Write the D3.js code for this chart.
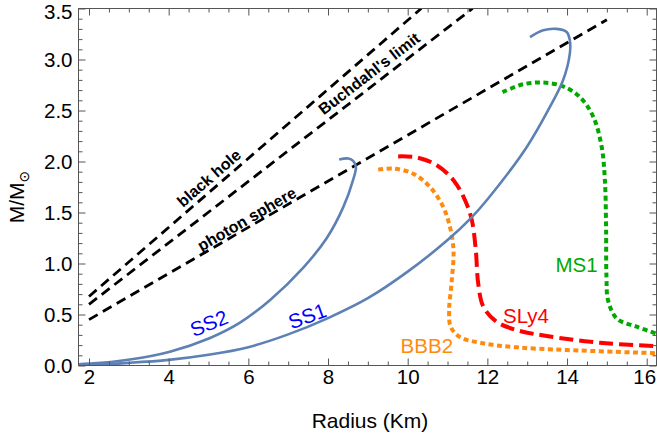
<!DOCTYPE html>
<html>
<head>
<meta charset="utf-8">
<script src="https://cdn.jsdelivr.net/npm/d3@7"></script>
<style>
body { margin: 0; background: #fff; }
text { font-family: "Liberation Sans", Arial, sans-serif; }
</style>
</head>
<body>
<script>
var w = 657;
var h = 440;

// axis ticks
var xTicks = [2, 4, 6, 8, 10, 12, 14, 16];
var yTicks = [0, 0.5, 1, 1.5, 2, 2.5, 3, 3.5];

// strange star sequences (radius in km, mass in solar masses)
var ss1R = [0, 2, 3, 4, 5, 6, 7, 8, 9, 10, 11, 11.6, 12.02, 12.99, 13.57, 13.9, 14.07, 14.07, 13.99, 13.74, 13.4, 13.07];
var ss1M = [0, 0.007, 0.026, 0.055, 0.105, 0.18, 0.305, 0.465, 0.66, 0.92, 1.23, 1.45, 1.637, 2.143, 2.535, 2.796, 3.058, 3.19, 3.27, 3.30, 3.286, 3.22];
var ss2R = [0, 2.03, 3.03, 4.03, 5.04, 5.79, 6.54, 7.38, 7.97, 8.38, 8.63, 8.70, 8.63, 8.51, 8.28];
var ss2M = [0, 0.018, 0.058, 0.135, 0.27, 0.42, 0.64, 0.96, 1.25, 1.55, 1.82, 1.947, 2.006, 2.03, 2.02];

// neutron star sequences
var sly4R = [9.76, 10.22, 10.73, 11.15, 11.44, 11.61, 11.71, 11.77, 11.9, 12.23, 12.73, 13.49, 14.83, 16.3];
var sly4M = [2.05, 2.04, 1.964, 1.817, 1.62, 1.425, 1.13, 0.805, 0.576, 0.43, 0.348, 0.289, 0.223, 0.188];
var bbb2R = [9.26, 9.64, 10.14, 10.56, 10.89, 11.06, 11.15, 11.1, 11.04, 11.08, 11.31, 11.9, 12.73, 13.99, 16.3];
var bbb2M = [1.92, 1.93, 1.88, 1.75, 1.555, 1.36, 1.13, 0.805, 0.54, 0.38, 0.28, 0.217, 0.178, 0.152, 0.12];
var ms1R = [12.38, 12.9, 13.4, 13.9, 14.32, 14.66, 14.87, 14.95, 14.98, 14.99, 15.03, 15.25, 15.75, 16.3];
var ms1M = [2.68, 2.757, 2.774, 2.737, 2.633, 2.437, 2.143, 1.817, 1.36, 0.87, 0.64, 0.46, 0.38, 0.305];

// limit lines (end points)
var blackHoleR = [2, 10.34];
var blackHoleM = [0.677, 3.5];
var buchdahlR = [2, 11.63];
var buchdahlM = [0.60, 3.5];
var photonR = [2, 15];
var photonM = [0.45, 3.39];

var x = d3.scaleLinear().domain([1.736, 16.246]).range([78.5, 656.5]);
var y = d3.scaleLinear().domain([0, 3.5]).range([365.5, 8.5]);

var svg = d3.select("body")
      .append("svg")
      .attr("width", w)
      .attr("height", h);

svg.append("defs").append("clipPath")
   .attr("id", "plot")
   .append("rect")
   .attr("x", x.range()[0])
   .attr("y", y.range()[1])
   .attr("width", x.range()[1] - x.range()[0])
   .attr("height", y.range()[0] - y.range()[1]);

function zip(rs, ms) {
  return rs.map(function(r, i) { return [r, ms[i]]; });
}

var line = d3.line()
    .x(function(d) { return x(d[0]); })
    .y(function(d) { return y(d[1]); })
    .curve(d3.curveCatmullRom.alpha(0.5));

var straight = d3.line()
    .x(function(d) { return x(d[0]); })
    .y(function(d) { return y(d[1]); });

var curves = [
  {pts: zip(blackHoleR, blackHoleM), color: "#000", width: 2.8, dash: "10,6", gen: straight},
  {pts: zip(buchdahlR, buchdahlM), color: "#000", width: 2.8, dash: "10,6", gen: straight},
  {pts: zip(photonR, photonM), color: "#000", width: 2.8, dash: "10,6", gen: straight},
  {pts: zip(sly4R, sly4M), color: "#ff0000", width: 4, dash: "14,6", gen: line},
  {pts: zip(bbb2R, bbb2M), color: "#ff8a10", width: 4, dash: "5,3.5", gen: line},
  {pts: zip(ms1R, ms1M), color: "#00a800", width: 4, dash: "5,3.5", gen: line},
  {pts: zip(ss1R, ss1M), color: "#5e81b5", width: 2.6, dash: null, gen: line},
  {pts: zip(ss2R, ss2M), color: "#5e81b5", width: 2.6, dash: null, gen: line}
];

var plot = svg.append("g").attr("clip-path", "url(#plot)");

plot.selectAll("path")
   .data(curves)
   .enter()
   .append("path")
   .attr("d", function(d) { return d.gen(d.pts); })
   .attr("fill", "none")
   .attr("stroke", function(d) { return d.color; })
   .attr("stroke-width", function(d) { return d.width; })
   .attr("stroke-dasharray", function(d) { return d.dash; });

// frame ticks (pointing inward, Mathematica style)
var xMinor = d3.range(2, 16.3, 0.5).filter(function(v) { return v % 2 !== 0; });
var yMinor = d3.range(0, 3.51, 0.1).filter(function(v) { return Math.abs(v * 2 - Math.round(v * 2)) > 1e-6; });
var frameColor = "#555";

function styleAxis(g) {
  g.select(".domain").remove();
  g.selectAll("line").attr("stroke", frameColor);
  g.selectAll("text").attr("font-family", "Liberation Sans, Arial, sans-serif")
   .attr("font-size", "20.5px").attr("fill", "#000");
}

var xAxisG = svg.append("g").attr("transform", "translate(0," + y.range()[0] + ")")
   .call(d3.axisBottom(x).tickValues(xTicks).tickSize(-7).tickPadding(4).tickFormat(d3.format("d")))
   .call(styleAxis);
// keep the last label inside the page
xAxisG.selectAll("text").filter(function(d) { return d === 16; }).attr("dx", -2.5);

svg.append("g").attr("transform", "translate(0," + y.range()[0] + ")")
   .call(d3.axisBottom(x).tickValues(xMinor).tickSize(-4).tickFormat(""))
   .call(styleAxis);
svg.append("g").attr("transform", "translate(0," + y.range()[1] + ")")
   .call(d3.axisTop(x).tickValues(xTicks).tickSize(-7).tickFormat(""))
   .call(styleAxis);
svg.append("g").attr("transform", "translate(0," + y.range()[1] + ")")
   .call(d3.axisTop(x).tickValues(xMinor).tickSize(-4).tickFormat(""))
   .call(styleAxis);

var yAxisG = svg.append("g").attr("transform", "translate(" + x.range()[0] + ",0)")
   .call(d3.axisLeft(y).tickValues(yTicks).tickSize(-7).tickPadding(6).tickFormat(d3.format(".1f")))
   .call(styleAxis);
// top label sits just inside the page
yAxisG.selectAll("text").filter(function(d) { return d === 3.5; }).attr("y", 3.5);

svg.append("g").attr("transform", "translate(" + x.range()[0] + ",0)")
   .call(d3.axisLeft(y).tickValues(yMinor).tickSize(-4).tickFormat(""))
   .call(styleAxis);
svg.append("g").attr("transform", "translate(" + x.range()[1] + ",0)")
   .call(d3.axisRight(y).tickValues(yTicks).tickSize(-7).tickFormat(""))
   .call(styleAxis);
svg.append("g").attr("transform", "translate(" + x.range()[1] + ",0)")
   .call(d3.axisRight(y).tickValues(yMinor).tickSize(-4).tickFormat(""))
   .call(styleAxis);

svg.append("rect")
   .attr("x", x.range()[0])
   .attr("y", y.range()[1])
   .attr("width", x.range()[1] - x.range()[0])
   .attr("height", y.range()[0] - y.range()[1])
   .attr("fill", "none")
   .attr("stroke", frameColor)
   .attr("stroke-width", 1);

// axis titles
svg.append("text")
   .attr("x", 370)
   .attr("y", 428)
   .attr("text-anchor", "middle")
   .attr("font-size", "21px")
   .text("Radius (Km)");

var yl = svg.append("text")
   .attr("transform", "translate(24,197) rotate(-90)")
   .attr("text-anchor", "middle")
   .attr("font-size", "21px");
yl.append("tspan").text("M/M");
yl.append("tspan").attr("dy", 5).attr("font-size", "14px").attr("font-family", "DejaVu Sans").text("\u2299");

// labels along the limit lines
function angleOf(rs, ms) {
  var dx = x(rs[1]) - x(rs[0]);
  var dy = y(ms[1]) - y(ms[0]);
  return Math.atan2(dy, dx) * 180 / Math.PI;
}

var lineLabels = [
  {text: "black hole", r: 5.01, m: 1.838, angle: angleOf(blackHoleR, blackHoleM)},
  {text: "Buchdahl's limit", r: 9.03, m: 2.863, angle: angleOf(buchdahlR, buchdahlM)},
  {text: "photon sphere", r: 5.96, m: 1.436, angle: angleOf(photonR, photonM)}
];

svg.selectAll(".ll")
   .data(lineLabels)
   .enter()
   .append("text")
   .attr("class", "ll")
   .attr("transform", function(d) {
     return "translate(" + x(d.r) + "," + y(d.m) + ") rotate(" + d.angle + ")";
   })
   .attr("dy", "0.35em")
   .attr("text-anchor", "middle")
   .attr("font-size", "16px")
   .attr("font-weight", "bold")
   .text(function(d) { return d.text; });

// curve names
var curveLabels = [
  {text: "SS2", r: 5.01, m: 0.414, angle: -22, color: "#0000ff", dy: "0.35em"},
  {text: "SS1", r: 7.48, m: 0.485, angle: -20, color: "#0000ff", dy: "0.35em"},
  {text: "SLy4", r: 12.97, m: 0.42, angle: 0, color: "#ff0000", dy: 0},
  {text: "BBB2", r: 10.48, m: 0.123, angle: 0, color: "#ff8a10", dy: 0},
  {text: "MS1", r: 14.24, m: 0.92, angle: 0, color: "#00a800", dy: 0}
];

svg.selectAll(".cl")
   .data(curveLabels)
   .enter()
   .append("text")
   .attr("class", "cl")
   .attr("transform", function(d) {
     return "translate(" + x(d.r) + "," + y(d.m) + ") rotate(" + d.angle + ")";
   })
   .attr("dy", function(d) { return d.dy; })
   .attr("text-anchor", "middle")
   .attr("font-size", "20.5px")
   .attr("fill", function(d) { return d.color; })
   .text(function(d) { return d.text; });
</script>
</body>
</html>
